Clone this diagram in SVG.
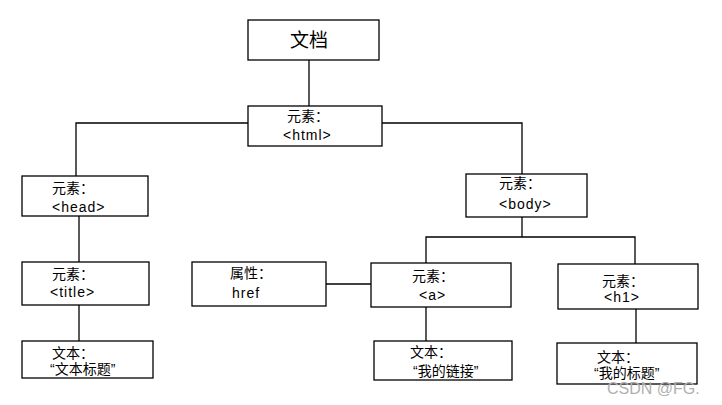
<svg xmlns="http://www.w3.org/2000/svg" width="722" height="405" viewBox="0 0 722 405">
<style>
.box{fill:#fff;stroke:#000;stroke-width:1.3}
.t{font-family:"Liberation Sans","Noto Sans CJK SC",sans-serif;font-size:14px;fill:#000}
.lat{letter-spacing:1px}
.big{font-size:19px}
.ln{stroke:#000;stroke-width:1.3;fill:none}
.wm{font-family:"Liberation Sans","Noto Sans CJK SC",sans-serif;font-size:16px;fill:#b0b0b0}
</style>
<rect width="722" height="405" fill="#fff"/>
<g id="connectors">
<path class="ln" d="M309,60 V106"/>
<path class="ln" d="M248,123 H76 V176"/>
<path class="ln" d="M382,123 H522 V174"/>
<path class="ln" d="M79,216 V262"/>
<path class="ln" d="M79,305 V341"/>
<path class="ln" d="M522,217 V237"/>
<path class="ln" d="M426,263 V237 H635 V264"/>
<path class="ln" d="M326,284 H371"/>
<path class="ln" d="M426,307 V341"/>
<path class="ln" d="M636,309 V343"/>
</g>
<g id="doc">
<rect class="box" x="248" y="20" width="131" height="40"/>
<text class="t big" x="290" y="47">文档</text>
</g>
<g id="html">
<rect class="box" x="248" y="106" width="134" height="40"/>
<text class="t" x="287" y="121">元素：</text>
<text class="t lat" x="283" y="140">&lt;html&gt;</text>
</g>
<g id="head">
<rect class="box" x="22" y="176" width="126" height="40"/>
<text class="t" x="52" y="193">元素：</text>
<text class="t lat" x="52" y="212">&lt;head&gt;</text>
</g>
<g id="body">
<rect class="box" x="466" y="174" width="121" height="43"/>
<text class="t" x="499" y="188">元素：</text>
<text class="t lat" x="499" y="209">&lt;body&gt;</text>
</g>
<g id="title">
<rect class="box" x="22" y="262" width="127" height="43"/>
<text class="t" x="52" y="279">元素：</text>
<text class="t lat" x="50" y="297">&lt;title&gt;</text>
</g>
<g id="titletext">
<rect class="box" x="22" y="341" width="131" height="37"/>
<text class="t" x="52" y="358">文本：</text>
<text class="t" x="50" y="374">“文本标题”</text>
</g>
<g id="href">
<rect class="box" x="192" y="262" width="134" height="44"/>
<text class="t" x="230" y="278">属性：</text>
<text class="t lat" x="232" y="298">href</text>
</g>
<g id="a">
<rect class="box" x="371" y="263" width="140" height="44"/>
<text class="t" x="412" y="281">元素：</text>
<text class="t lat" x="419" y="300">&lt;a&gt;</text>
</g>
<g id="atext">
<rect class="box" x="374" y="341" width="138" height="39"/>
<text class="t" x="410" y="357">文本：</text>
<text class="t" x="413" y="376">“我的链接”</text>
</g>
<g id="h1">
<rect class="box" x="558" y="264" width="140" height="45"/>
<text class="t" x="602" y="286">元素：</text>
<text class="t lat" x="604" y="302">&lt;h1&gt;</text>
</g>
<g id="h1text">
<rect class="box" x="557" y="343" width="140" height="41"/>
<text class="t" x="597" y="362">文本：</text>
<text class="t" x="594" y="378">“我的标题”</text>
</g>
<text class="wm" x="607" y="394">CSDN @FG.</text>
</svg>
